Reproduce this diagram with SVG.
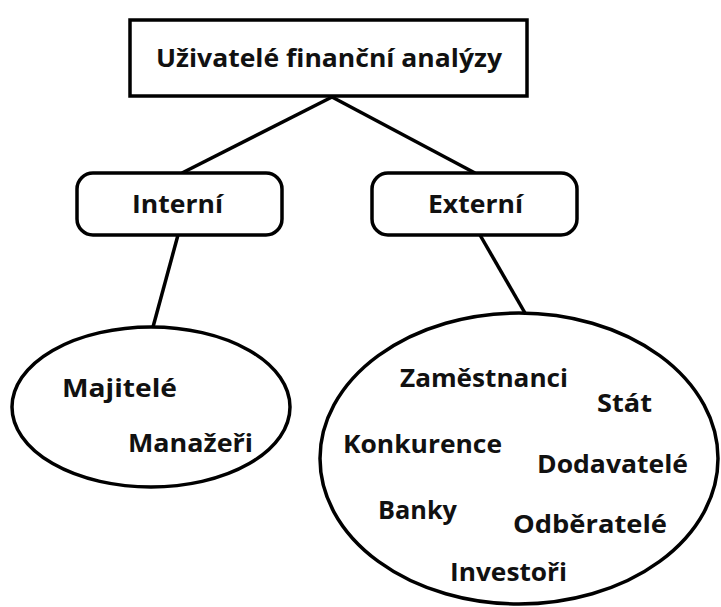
<svg xmlns="http://www.w3.org/2000/svg" width="721" height="607" viewBox="0 0 721 607">
<style>
.t{font-family:"Open Sans","Liberation Sans",sans-serif;font-weight:bold;font-size:25.5px;fill:#111;}
.s{fill:#fff;stroke:#000;stroke-width:3.5;}
.c{stroke:#000;stroke-width:3.5;fill:none;}
</style>
<rect width="721" height="607" fill="#fff"/>
<g id="connectors">
<line class="c" x1="332" y1="97" x2="182" y2="173"/>
<line class="c" x1="332" y1="97" x2="475" y2="173"/>
<line class="c" x1="178" y1="235" x2="153" y2="327"/>
<line class="c" x1="480" y1="235" x2="525" y2="313"/>
</g>
<g id="root">
<rect class="s" x="130" y="20" width="397" height="76" stroke-width="4"/>
<text class="t" x="156" y="67" font-size="27" textLength="346" lengthAdjust="spacingAndGlyphs">Uživatelé finanční analýzy</text>
</g>
<g id="interni">
<rect class="s" x="77" y="173" width="205" height="62" rx="16"/>
<text class="t" x="132" y="213" textLength="91" lengthAdjust="spacingAndGlyphs">Interní</text>
</g>
<g id="externi">
<rect class="s" x="372" y="173" width="205" height="62" rx="16"/>
<text class="t" x="428" y="213" textLength="95" lengthAdjust="spacingAndGlyphs">Externí</text>
</g>
<g id="interni-users">
<ellipse class="s" cx="151" cy="407" rx="139" ry="80"/>
<text class="t" x="62" y="397" textLength="115" lengthAdjust="spacingAndGlyphs">Majitelé</text>
<text class="t" x="128" y="452" textLength="125" lengthAdjust="spacingAndGlyphs">Manažeři</text>
</g>
<g id="externi-users">
<ellipse class="s" cx="519" cy="458.5" rx="199" ry="145.5"/>
<text class="t" x="400" y="387" textLength="168" lengthAdjust="spacingAndGlyphs">Zaměstnanci</text>
<text class="t" x="597" y="412" textLength="55" lengthAdjust="spacingAndGlyphs">Stát</text>
<text class="t" x="343" y="453" textLength="159" lengthAdjust="spacingAndGlyphs">Konkurence</text>
<text class="t" x="537" y="473" textLength="151" lengthAdjust="spacingAndGlyphs">Dodavatelé</text>
<text class="t" x="378" y="519" textLength="79" lengthAdjust="spacingAndGlyphs">Banky</text>
<text class="t" x="513" y="533" textLength="154" lengthAdjust="spacingAndGlyphs">Odběratelé</text>
<text class="t" x="450" y="581" textLength="117" lengthAdjust="spacingAndGlyphs">Investoři</text>
</g>
</svg>
